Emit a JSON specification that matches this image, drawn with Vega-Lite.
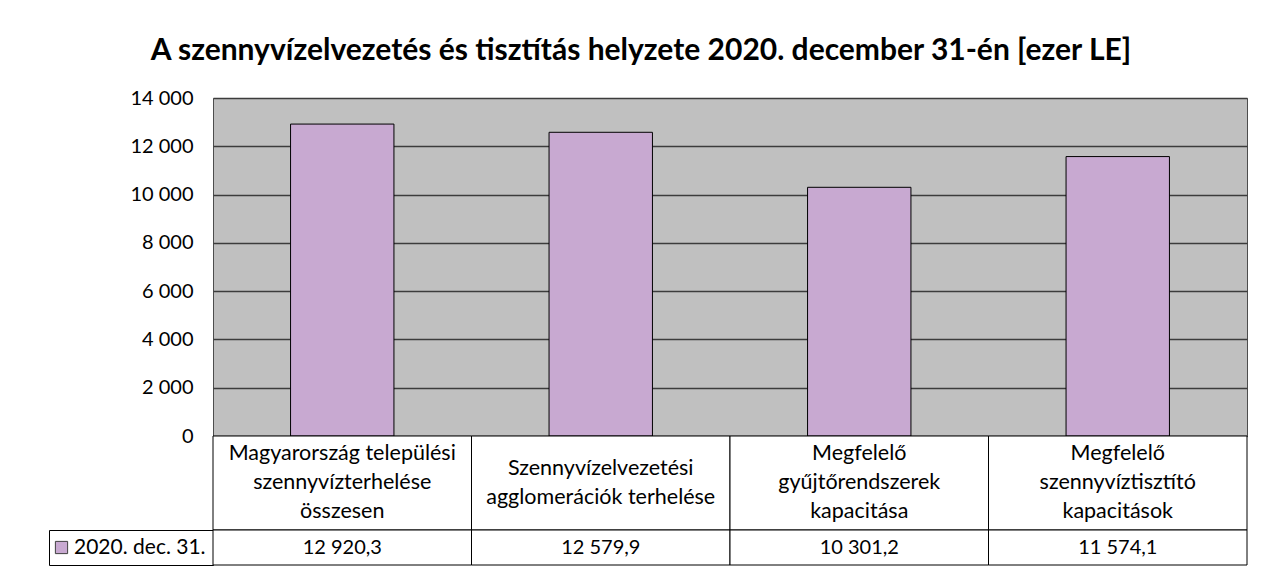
{
  "$schema": "https://vega.github.io/schema/vega-lite/v6.json",
  "padding": {"left": 48, "top": 35, "right": 0, "bottom": 0},
  "background": "white",
  "title": {
    "text": "A szennyvízelvezetés és tisztítás helyzete 2020. december 31-én [ezer LE]",
    "font": "Lato",
    "fontSize": 30,
    "fontWeight": "bold",
    "color": "#000000",
    "anchor": "middle",
    "offset": 22,
    "dx": -7
  },
  "datasets": {
    "adatok": [
      {"kategoria": "Magyarország települési\nszennyvízterhelése\nösszesen", "ertek": 12920.3, "sorozat": "2020. dec. 31."},
      {"kategoria": "Szennyvízelvezetési\nagglomerációk terhelése", "ertek": 12579.9, "sorozat": "2020. dec. 31."},
      {"kategoria": "Megfelelő\ngyűjtőrendszerek\nkapacitása", "ertek": 10301.2, "sorozat": "2020. dec. 31."},
      {"kategoria": "Megfelelő\nszennyvíztisztító\nkapacitások", "ertek": 11574.1, "sorozat": "2020. dec. 31."}
    ]
  },
  "columns": 2,
  "spacing": 0,
  "bounds": "flush",
  "align": "each",
  "concat": [
    {
      "width": 164,
      "height": 338,
      "data": {"values": [{}]},
      "mark": {"type": "text"},
      "encoding": {"text": {"value": ""}}
    },
    {
      "width": 1034,
      "height": 338,
      "view": {"fill": "#C0C0C0", "stroke": "#4d4d4d", "strokeWidth": 1},
      "data": {"name": "adatok"},
      "mark": {"type": "bar", "stroke": "#000000", "strokeWidth": 1},
      "encoding": {
        "x": {
          "field": "kategoria",
          "type": "nominal",
          "sort": null,
          "scale": {"paddingInner": 0.6, "paddingOuter": 0.3},
          "axis": null
        },
        "y": {
          "field": "ertek",
          "type": "quantitative",
          "scale": {"domain": [0, 14000], "nice": false},
          "axis": {
            "values": [0, 2000, 4000, 6000, 8000, 10000, 12000, 14000],
            "format": ",d",
            "title": null,
            "domain": false,
            "ticks": false,
            "labelPadding": 20,
            "labelFont": "Lato",
            "labelFontSize": 20,
            "labelColor": "#000000",
            "grid": true,
            "gridColor": "#3c3c3c",
            "gridWidth": 1.5
          }
        },
        "fill": {
          "field": "sorozat",
          "type": "nominal",
          "scale": {"range": ["#C8A9D1"]},
          "legend": {
            "orient": "none",
            "legendX": 2,
            "legendY": 439,
            "title": null,
            "padding": 0,
            "symbolType": "square",
            "symbolSize": 150,
            "symbolStrokeColor": "#404040",
            "symbolStrokeWidth": 1,
            "labelOffset": 2,
            "labelFont": "Lato",
            "labelFontSize": 21,
            "labelColor": "#000000"
          }
        }
      }
    },
    {
      "width": 164,
      "height": 94,
      "data": {"values": [{}]},
      "mark": {"type": "text"},
      "encoding": {"text": {"value": ""}}
    },
    {
      "width": 1034,
      "height": 94,
      "data": {"name": "adatok"},
      "layer": [
        {
          "mark": {"type": "rect", "fill": "#ffffff", "stroke": "#000000", "strokeWidth": 1},
          "encoding": {
            "x": {"field": "kategoria", "type": "nominal", "sort": null, "scale": {"paddingInner": 0, "paddingOuter": 0}, "axis": null}
          }
        },
        {
          "transform": [{"filter": "length(split(datum.kategoria, '\\n')) == 3"}],
          "mark": {"type": "text", "font": "Lato", "fontSize": 21.5, "color": "#000000", "lineBreak": "\n", "lineHeight": 29, "baseline": "middle", "align": "center", "dy": -29},
          "encoding": {
            "x": {"field": "kategoria", "type": "nominal", "sort": null, "axis": null},
            "text": {"field": "kategoria", "type": "nominal"}
          }
        },
        {
          "transform": [{"filter": "length(split(datum.kategoria, '\\n')) == 2"}],
          "mark": {"type": "text", "font": "Lato", "fontSize": 21.5, "color": "#000000", "lineBreak": "\n", "lineHeight": 29, "baseline": "middle", "align": "center", "dy": -14},
          "encoding": {
            "x": {"field": "kategoria", "type": "nominal", "sort": null, "axis": null},
            "text": {"field": "kategoria", "type": "nominal"}
          }
        }
      ]
    },
    {
      "width": 164,
      "height": 35,
      "view": {"stroke": "#000000", "strokeWidth": 1, "fill": "#ffffff"},
      "data": {"values": [{}]},
      "mark": {"type": "text"},
      "encoding": {"text": {"value": ""}}
    },
    {
      "width": 1034,
      "height": 35,
      "data": {"name": "adatok"},
      "layer": [
        {
          "mark": {"type": "rect", "fill": "#ffffff", "stroke": "#000000", "strokeWidth": 1},
          "encoding": {
            "x": {"field": "kategoria", "type": "nominal", "sort": null, "scale": {"paddingInner": 0, "paddingOuter": 0}, "axis": null}
          }
        },
        {
          "mark": {"type": "text", "font": "Lato", "fontSize": 20, "color": "#000000", "baseline": "middle", "align": "center"},
          "encoding": {
            "x": {"field": "kategoria", "type": "nominal", "sort": null, "axis": null},
            "text": {"field": "ertek", "type": "quantitative", "format": ",.1f"}
          }
        }
      ]
    }
  ],
  "config": {
    "view": {"stroke": null},
    "font": "Lato",
    "locale": {
      "number": {"decimal": ",", "thousands": " ", "grouping": [3], "currency": ["", " Ft"]}
    }
  }
}
